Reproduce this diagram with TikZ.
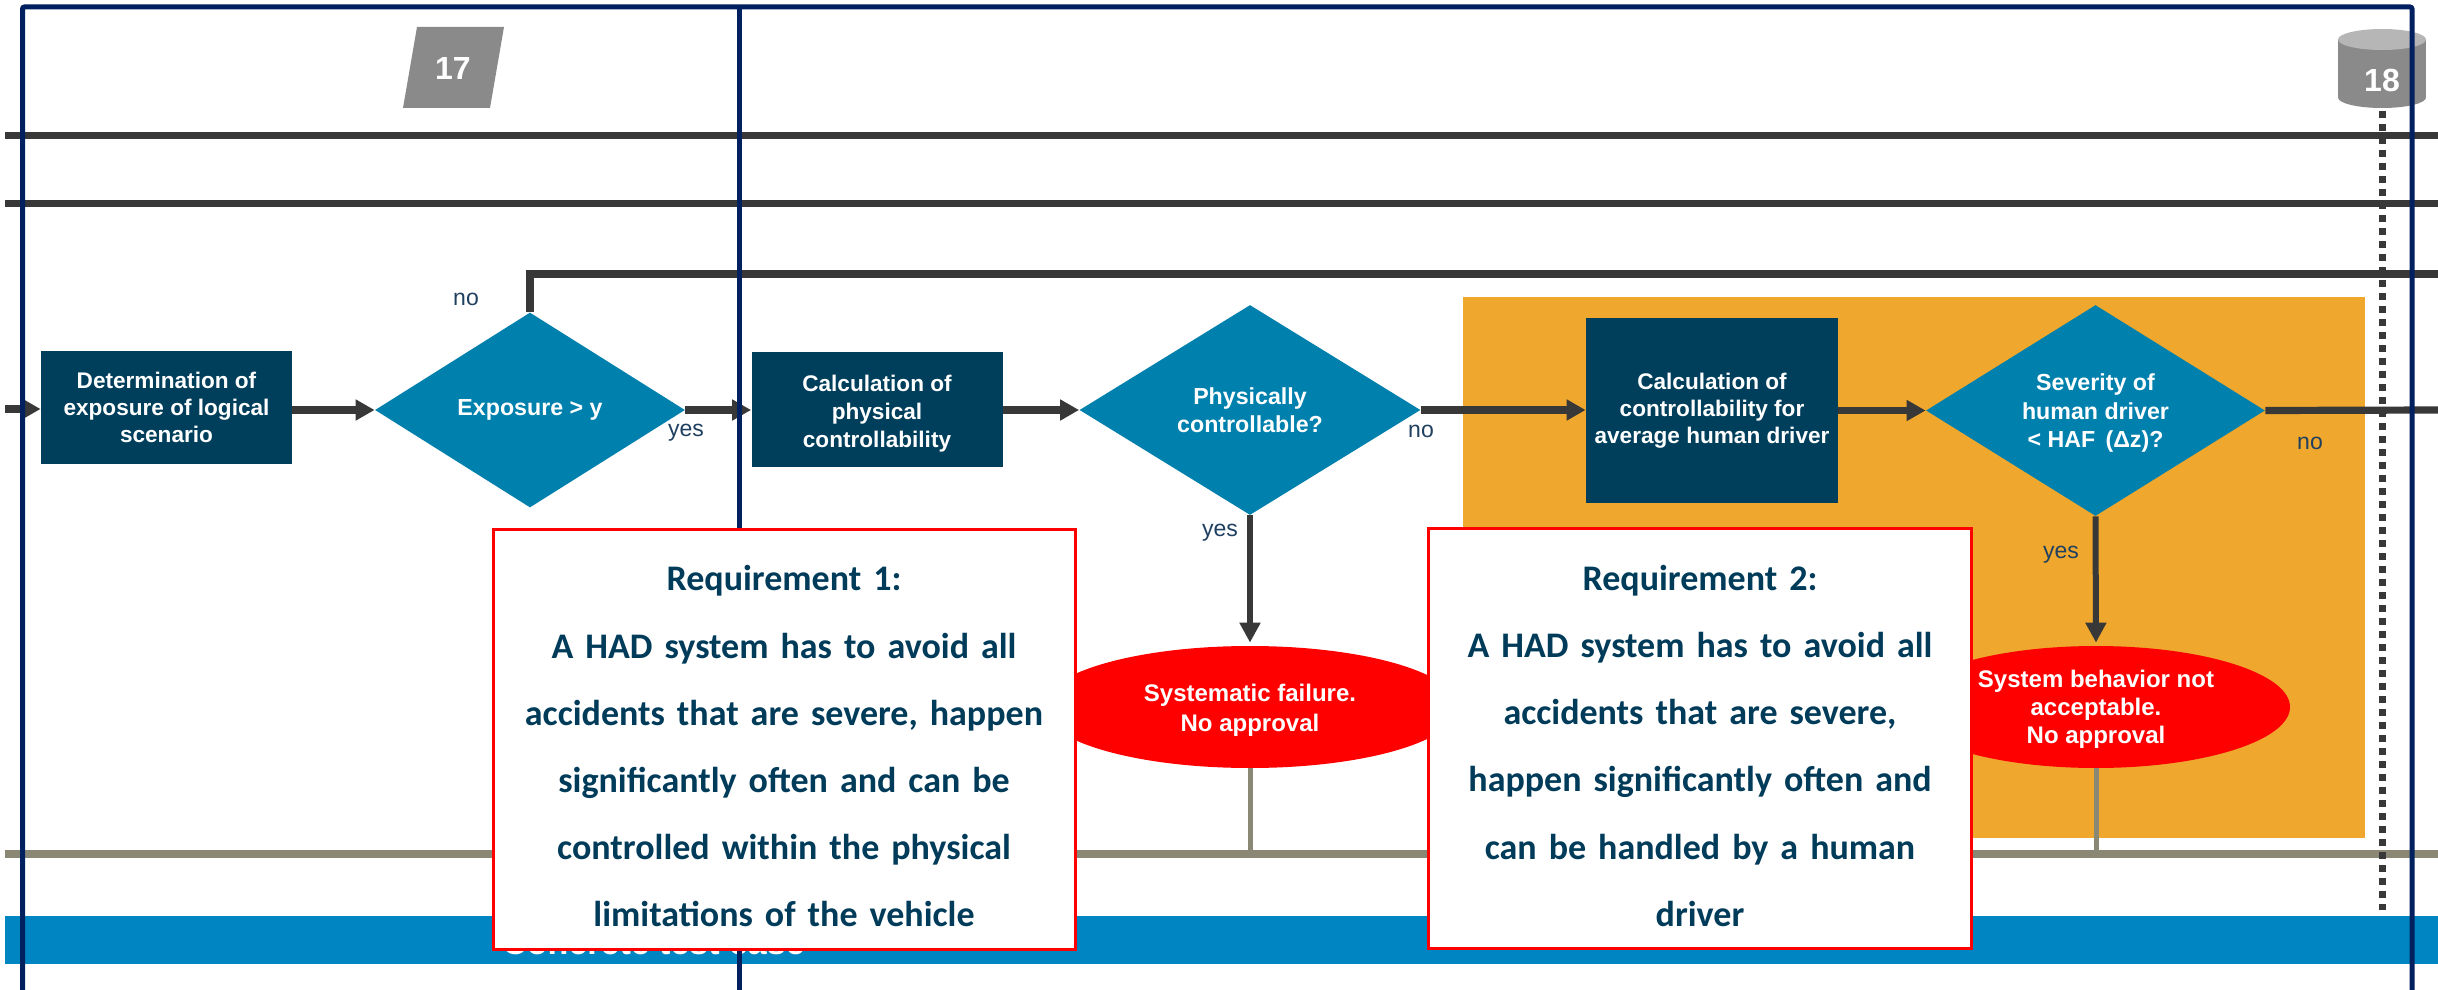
\documentclass[tikz,border=0pt]{standalone}
\usepackage{fontspec}
\setmainfont{Liberation Sans}
\newfontfamily\reqfont[WordSpace=0.75]{Carlito}
\usetikzlibrary{shapes.geometric,arrows.meta}
\definecolor{frameblue}{HTML}{002060}
\definecolor{darkline}{HTML}{383838}
\definecolor{navybox}{HTML}{003F5C}
\definecolor{tealdia}{HTML}{0080AD}
\definecolor{barblue}{HTML}{0085C3}
\definecolor{orangebg}{HTML}{EFA82D}
\definecolor{greyline}{HTML}{8B8775}
\definecolor{shapegrey}{HTML}{8A8A8A}
\definecolor{shapelight}{HTML}{B6B6B6}
\definecolor{labelcol}{HTML}{1F4060}
\definecolor{reqtext}{HTML}{003C5A}
\tikzset{
  lane/.style={draw=darkline,line width=3.5pt},
  flow/.style={draw=darkline,line width=3.6pt,-{Triangle[length=9.5pt,width=10pt]}},
  flowthin/.style={draw=darkline,line width=3pt,-{Triangle[length=10pt,width=10pt]}},
  plainflow/.style={draw=darkline,line width=3.6pt},
  greybar/.style={draw=greyline,line width=4pt},
  greystem/.style={draw=greyline,line width=2.5pt},
  framestyle/.style={draw=frameblue,line width=2.5pt},
  procbox/.style={rectangle,fill=navybox,text=white,inner sep=0pt,align=center,font=\fontsize{11.3}{13.6}\selectfont\bfseries},
  decis/.style={diamond,fill=tealdia,text=white,inner sep=0pt,align=center,font=\fontsize{11.6}{14.2}\selectfont\bfseries},
  stopell/.style={ellipse,fill=red,text=white,inner sep=0pt,align=center,font=\fontsize{12}{15}\selectfont\bfseries},
  flabel/.style={text=labelcol,inner sep=0pt,font=\fontsize{11.5}{13}\selectfont},
  reqbox/.style={rectangle,draw=red,fill=white,line width=1.5pt,inner sep=0pt,align=center,text=reqtext,font=\reqfont\fontsize{18}{33.6}\selectfont\bfseries},
  refnum/.style={text=white,inner sep=0pt,font=\fontsize{16}{18}\selectfont\bfseries},
}
\begin{document}
\begin{tikzpicture}[x=0.5pt,y=-0.5pt]
\useasboundingbox (0,0) rectangle (2438,990);
\fill[white] (0,0) rectangle (2438,990);

% swimlanes and bands
\coordinate (laneAl) at (5,135.5); \coordinate (laneAr) at (2438,135.5);
\coordinate (laneBl) at (5,204);   \coordinate (laneBr) at (2438,204);
\draw[lane] (laneAl) -- (laneAr);
\draw[lane] (laneBl) -- (laneBr);
\fill[barblue] (5,916) rectangle (2438,964);
\node[anchor=base west,inner sep=0pt,text=white,font=\fontsize{17}{19}\selectfont\bfseries] (casetxt) at (502,954) {Concrete test case};
\fill[orangebg] (1463,297) rectangle (2365,838);

% reference shapes
\fill[shapegrey] (417,27) -- (504,27) -- (490,108) -- (403,108) -- cycle;
\node[refnum] (n17) at (453,68) {17};
\fill[shapegrey] (2338,39.5) rectangle (2426,97.5);
\fill[shapegrey] (2382,97.5) ellipse [x radius=44,y radius=10.5];
\fill[shapelight] (2382,39.5) ellipse [x radius=44,y radius=10.5];
\node[refnum] (n18) at (2382,80) {18};
\coordinate (dotstart) at (2382,111);

% flow nodes
\node[procbox,minimum width=125.5pt,minimum height=56.5pt] (b1) at (166.5,407.5) {Determination of\\exposure of logical\\scenario};
\node[decis,minimum width=155pt,minimum height=97.5pt,shape aspect=1.59] (d1) at (530,410) {\raisebox{-3pt}{Exposure > y}};
\node[procbox,minimum width=125.5pt,minimum height=57.5pt,font=\fontsize{11.3}{14}\selectfont\bfseries] (b2) at (877,409.5) {\rule{0pt}{12pt}Calculation of\\physical\\controllability};
\node[decis,minimum width=170.5pt,minimum height=105pt,shape aspect=1.62] (d2) at (1250,410) {Physically\\controllable?};
\node[procbox,minimum width=126pt,minimum height=92.5pt] (b3) at (1712,410.5) {Calculation of\\controllability for\\average human driver};
\node[decis,minimum width=169.5pt,minimum height=105.5pt,shape aspect=1.61] (d3) at (2095.5,410.5) {\rule{0pt}{11pt}Severity of\\human driver\\< HAF\,\ (Δz)?};
\node[stopell,minimum width=208pt,minimum height=61pt] (e1) at (1250,707) {\rule{0pt}{12pt}Systematic failure.\\No approval};
\node[stopell,minimum width=194pt,minimum height=61pt,font=\fontsize{12}{14}\selectfont\bfseries] (e2) at (2096,707) {\rule{0pt}{11pt}System behavior not\\acceptable.\\No approval};

% connectors
\coordinate (entry) at (5,409);
\coordinate (loopend) at (2438,274);
\coordinate (rightend) at (2438,410);
\coordinate (barL) at (5,854);
\coordinate (barR) at (2438,854);
\coordinate (dotend) at (2382,910);
\draw[flow] (entry) -- (b1.west |- entry);
\draw[flow] (b1.east |- d1.west) -- (d1.west);
\draw[flow] (d1.east) -- (b2.west |- d1.east);
\draw[flow] (d2.west -| b2.east) -- (d2.west);
\draw[flow] (d2.east) -- (b3.west |- d2.east);
\draw[flow] (b3.east |- d3.west) -- (d3.west);
\draw[plainflow] (d3.east) -- (rightend);
\draw[plainflow] (d1.north) |- (loopend);
\draw[flowthin] (d2.south) -- ([yshift=1.5pt]e1.north);
\draw[flowthin] (d3.south) -- ([yshift=1.5pt]e2.north);
\draw[greybar] (barL) -- (barR);
\draw[greystem] (e1.south) -- (e1.south |- barL);
\draw[greystem] (e2.south) -- (e2.south |- barL);
\draw[draw=darkline,line width=3.5pt,dash pattern=on 3.5pt off 3pt] (dotstart) -- (dotend);

% labels
\node[flabel] (l1) at (466,299) {no};
\node[flabel] (l2) at (686,433) {yes};
\node[flabel] (l3) at (1220,533) {yes};
\node[flabel] (l4) at (1421,431) {no};
\node[flabel] (l5) at (2061,555) {yes};
\node[flabel] (l6) at (2310,443) {no};

% frame
\coordinate (frTL) at (22.5,7); \coordinate (frTR) at (2412,7);
\coordinate (frBL) at (22.5,990); \coordinate (frBR) at (2412,990);
\coordinate (divT) at (739,7); \coordinate (divB) at (739,990);
\draw[framestyle,rounded corners=1pt] (frBL) -- (frTL) -- (frTR) -- (frBR);
\draw[framestyle] (divT) -- (divB);

% requirement boxes
\node[reqbox,minimum width=291pt,minimum height=210pt,text width=287pt] (r1) at (784,739) {\rule{0pt}{20pt}Requirement 1:\\A HAD system has to avoid all\\accidents that are severe, happen\\significantly often and can be\\controlled within the physical\\limitations of the vehicle};
\node[reqbox,minimum width=271.5pt,minimum height=210pt,text width=267pt] (r2) at (1700,738.5) {\rule{0pt}{20pt}Requirement 2:\\A HAD system has to avoid all\\accidents that are severe,\\happen significantly often and\\can be handled by a human\\driver};
\end{tikzpicture}
\end{document}
